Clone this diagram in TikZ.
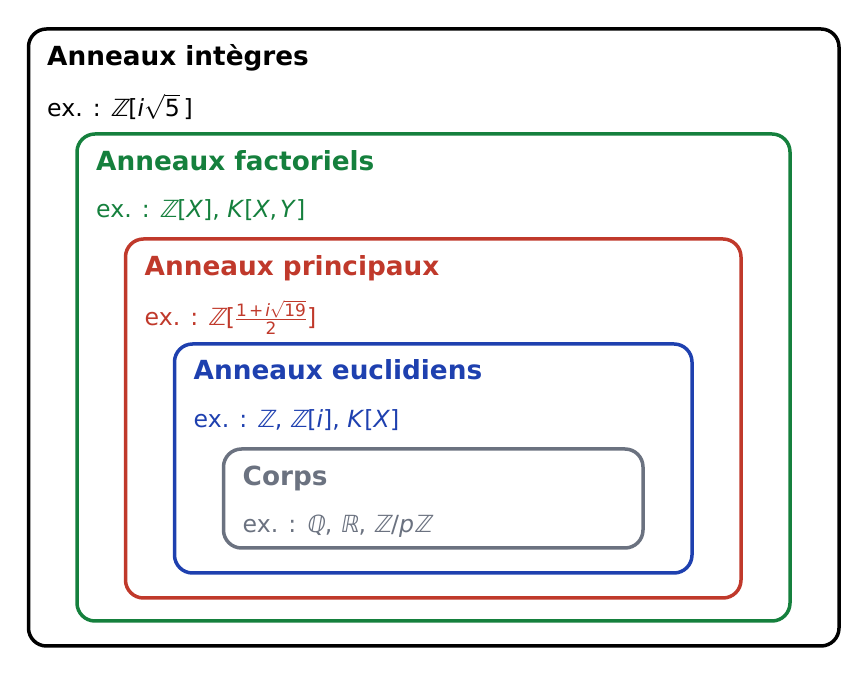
\documentclass[tikz,border=0pt]{standalone}
\usepackage{amsmath}
\usepackage{fontspec}
\setmainfont{DejaVu Sans}
\newfontfamily\bbfont[FakeSlant=0.18]{DejaVu Sans}
\definecolor{cgreen}{HTML}{15803D}
\definecolor{cred}{HTML}{C0392B}
\definecolor{cblue}{HTML}{1E40AF}
\definecolor{cgray}{HTML}{6B7280}
\newcommand{\ZZ}{{\bbfont ℤ}}
\newcommand{\QQ}{{\bbfont ℚ}}
\newcommand{\RR}{{\bbfont ℝ}}
\newcommand{\titlefont}{\fontsize{26.3}{30}\selectfont\bfseries}
\newcommand{\exfont}{\fontsize{23.6}{28}\selectfont}
\begin{document}
\begin{tikzpicture}[x=1pt,y=1pt,
  ringbox/.style={draw, line width=3.5pt, rounded corners=18pt},
  ringtitle/.style={anchor=base west, inner sep=0pt, font=\titlefont},
  ringex/.style={anchor=base west, inner sep=0pt, font=\exfont}]
\useasboundingbox (0,0) rectangle (867,676);
% boxes (y = 676 - pixel y)
\draw[ringbox, black] (28.5,647) rectangle (839,30);
\draw[ringbox, cgreen] (77,542) rectangle (790,55);
\draw[ringbox, cred] (125.5,437) rectangle (741,78);
\draw[ringbox, cblue] (174.5,332) rectangle (692,103);
\draw[ringbox, cgray] (223.5,227) rectangle (643,128);
% texts
\node[ringtitle, black] (t1) at (47,610) {Anneaux intègres};
\node[ringex, black] (e1) at (47,559) {ex. : \ZZ[\textit{i}$\sqrt{\hbox{5}}$\,]};
\node[ringtitle, cgreen] (t2) at (96,505) {Anneaux factoriels};
\node[ringex, cgreen] (e2) at (96,458) {ex. : \ZZ[\textit{X}], \textit{K}[\textit{X},\kern3pt\textit{Y}]};
\node[ringtitle, cred] (t3) at (144.5,400) {Anneaux principaux};
\node[ringex, cred] (e3) at (144.5,350) {ex. : \ZZ[$\genfrac{}{}{0.9pt}{}{\hbox{\fontsize{17}{19}\selectfont 1\kern2pt+\kern2pt\textit{i}$\sqrt{\hbox{19}}$}}{\hbox{\fontsize{17}{19}\selectfont 2}}$]};
\node[ringtitle, cblue] (t4) at (193.5,296) {Anneaux euclidiens};
\node[ringex, cblue] (e4) at (193.5,248) {ex. : \ZZ, \ZZ[\textit{i}], \textit{K}[\textit{X}]};
\node[ringtitle, cgray] (t5) at (242.5,190) {Corps};
\node[ringex, cgray] (e5) at (242.5,143) {ex. : \QQ, \RR, \ZZ/\textit{p}\ZZ};
\end{tikzpicture}
\end{document}
